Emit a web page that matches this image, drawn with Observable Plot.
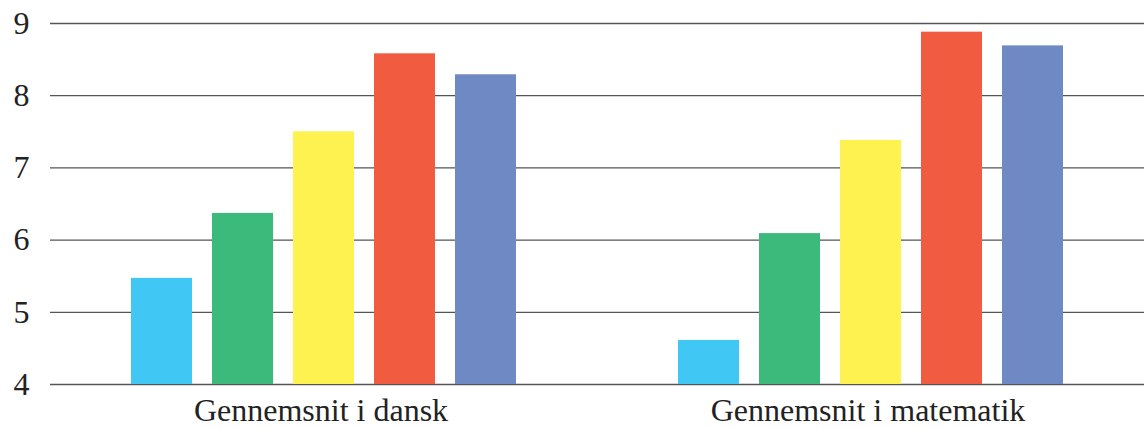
<!DOCTYPE html>
<html>
<head>
<meta charset="utf-8">
<script src="https://cdn.jsdelivr.net/npm/d3@7"></script>
<script src="https://cdn.jsdelivr.net/npm/@observablehq/plot@0.6"></script>
<style>
  html, body { margin: 0; padding: 0; background: #fff; }
  #chart svg { display: block; }
</style>
</head>
<body>
<div id="chart"></div>
<script>
const groups = ["Gennemsnit i dansk", "Gennemsnit i matematik"];
const series = ["1", "2", "3", "4", "5"];
const colors = ["#41C7F4", "#3BBA7C", "#FEF250", "#F15B40", "#6F89C5"];
const dansk = [5.47, 6.37, 7.50, 8.58, 8.29];
const matematik = [4.61, 6.09, 7.38, 8.88, 8.69];
const yTicks = [4, 5, 6, 7, 8, 9];

const data = [];
series.forEach((s, i) => data.push({group: groups[0], series: s, value: dansk[i]}));
series.forEach((s, i) => data.push({group: groups[1], series: s, value: matematik[i]}));

const chart = Plot.plot({
  width: 1144,
  height: 428,
  marginLeft: 49,
  marginRight: 0,
  marginTop: 23,
  marginBottom: 44,
  style: {fontFamily: "'Liberation Serif', 'Times New Roman', serif", fontSize: "32px", color: "#222", background: "#fff"},
  fx: {domain: groups, padding: 0, label: null, axis: null},
  x: {domain: series, paddingInner: 0.25, paddingOuter: 1, axis: null},
  y: {domain: [4, 9], ticks: yTicks, label: null, axis: null},
  color: {domain: series, range: colors},
  marks: [
    Plot.gridY(yTicks, {stroke: "#555", strokeOpacity: 1, strokeWidth: 1.3}),
    Plot.barY(data, {fx: "group", x: "series", y1: 4, y2: "value", fill: "series"}),
    Plot.axisY(yTicks, {tickSize: 0, tickPadding: 21, fontSize: 32, fill: "#222", label: null, tickFormat: d3.format("d")}),
    Plot.axisFx({anchor: "bottom", tickSize: 0, tickPadding: 14, fontSize: 32, dx: -3, fill: "#222", label: null})
  ]
});
document.getElementById("chart").appendChild(chart);
</script>
</body>
</html>
